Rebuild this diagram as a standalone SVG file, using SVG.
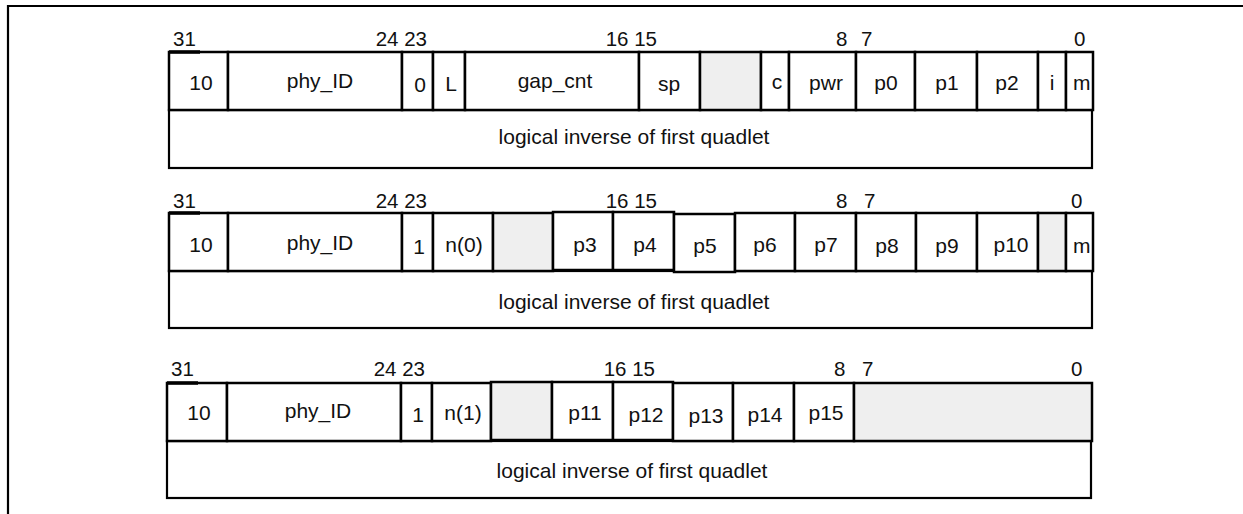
<svg xmlns="http://www.w3.org/2000/svg" width="1243" height="514" viewBox="0 0 1243 514">
<style>
.c{fill:#fff;stroke:#000;stroke-width:2.5}
.g{fill:#efefef;stroke:#000;stroke-width:2.5}
.box{fill:#fff;stroke:#000;stroke-width:2.2}
text{font-family:"Liberation Sans",Arial,sans-serif;fill:#111}
.l{font-size:21px;text-anchor:middle}
.b{font-size:20.5px}
.e{text-anchor:end}
.s{text-anchor:start}
</style>
<defs>
  <clipPath id="clipm1"><rect x="1066" y="52" width="26" height="58"/></clipPath>
  <clipPath id="clipm2"><rect x="1066" y="213" width="26" height="58"/></clipPath>
</defs>
<rect width="1243" height="514" fill="#fff"/>
<path d="M8,514 V6 H1243" fill="none" stroke="#000" stroke-width="2.2"/>
<g id="connectors"/>

<g id="q1">
  <g id="q1-inverse"><rect class="box" x="169" y="110" width="923" height="58"/><text class="l" x="634" y="144">logical inverse of first quadlet</text></g>
  <g id="q1-bits" class="b"><text x="173" y="46">31</text><text class="e" x="427" y="46">24 23</text><text class="e" x="657" y="46">16 15</text><text x="836" y="46">8</text><text x="861" y="46">7</text><text x="1074" y="46">0</text></g>
  <g id="q1-f10"><rect class="c" x="169" y="52" width="59" height="58"/><text class="l" x="201" y="90">10</text></g>
  <g id="q1-phyid"><rect class="c" x="228" y="52" width="174" height="58"/><text class="l" x="320" y="88">phy_ID</text></g>
  <g id="q1-zero"><rect class="c" x="402" y="52" width="31" height="58"/><text class="l" x="420" y="92">0</text></g>
  <g id="q1-L"><rect class="c" x="433" y="52" width="32" height="58"/><text class="l" x="451" y="91">L</text></g>
  <g id="q1-gapcnt"><rect class="c" x="465" y="52" width="174" height="58"/><text class="l" x="555" y="88">gap_cnt</text></g>
  <g id="q1-sp"><rect class="c" x="639" y="52" width="61" height="58"/><text class="l" x="669" y="91">sp</text></g>
  <g id="q1-res"><rect class="g" x="700" y="52" width="61" height="58"/></g>
  <g id="q1-c"><rect class="c" x="761" y="52" width="28" height="58"/><text class="l" x="777" y="89">c</text></g>
  <g id="q1-pwr"><rect class="c" x="789" y="52" width="67" height="58"/><text class="l" x="826" y="90">pwr</text></g>
  <g id="q1-p0"><rect class="c" x="856" y="52" width="59" height="58"/><text class="l" x="886" y="90">p0</text></g>
  <g id="q1-p1"><rect class="c" x="915" y="52" width="62" height="58"/><text class="l" x="947" y="90">p1</text></g>
  <g id="q1-p2"><rect class="c" x="977" y="52" width="61" height="58"/><text class="l" x="1007" y="90">p2</text></g>
  <g id="q1-i"><rect class="c" x="1038" y="52" width="28" height="58"/><text class="l" x="1052" y="90">i</text></g>
  <g id="q1-m"><rect class="c" x="1066" y="52" width="27" height="58"/><text class="l s" x="1073" y="90" clip-path="url(#clipm1)">m</text></g>
  <line x1="169" y1="52" x2="200" y2="52" stroke="#000" stroke-width="3.5"/>
</g>

<g id="q2">
  <g id="q2-inverse"><rect class="box" x="169" y="271" width="923" height="57"/><text class="l" x="634" y="309">logical inverse of first quadlet</text></g>
  <g id="q2-bits" class="b"><text x="173" y="208">31</text><text class="e" x="427" y="208">24 23</text><text class="e" x="657" y="208">16 15</text><text x="836" y="208">8</text><text x="864" y="208">7</text><text x="1071" y="208">0</text></g>
  <g id="q2-f10"><rect class="c" x="169" y="213" width="59" height="58"/><text class="l" x="201" y="252">10</text></g>
  <g id="q2-phyid"><rect class="c" x="228" y="213" width="174" height="58"/><text class="l" x="320" y="250">phy_ID</text></g>
  <g id="q2-one"><rect class="c" x="402" y="213" width="31" height="58"/><text class="l" x="419" y="254">1</text></g>
  <g id="q2-n0"><rect class="c" x="433" y="213" width="60" height="58"/><text class="l" x="464" y="252">n(0)</text></g>
  <g id="q2-res1"><rect class="g" x="493" y="213" width="60" height="58"/></g>
  <g id="q2-p3"><rect class="c" x="553" y="212" width="60" height="58"/><text class="l" x="585" y="252">p3</text></g>
  <g id="q2-p4"><rect class="c" x="613" y="212" width="61" height="58"/><text class="l" x="645" y="252">p4</text></g>
  <g id="q2-p5"><rect class="c" x="674" y="214" width="61" height="58"/><text class="l" x="705" y="253">p5</text></g>
  <g id="q2-p6"><rect class="c" x="735" y="213" width="60" height="58"/><text class="l" x="765" y="252">p6</text></g>
  <g id="q2-p7"><rect class="c" x="795" y="213" width="61" height="58"/><text class="l" x="826" y="252">p7</text></g>
  <g id="q2-p8"><rect class="c" x="856" y="213" width="60" height="58"/><text class="l" x="887" y="253">p8</text></g>
  <g id="q2-p9"><rect class="c" x="916" y="213" width="61" height="58"/><text class="l" x="947" y="253">p9</text></g>
  <g id="q2-p10"><rect class="c" x="977" y="213" width="61" height="58"/><text class="l" x="1011" y="252">p10</text></g>
  <g id="q2-res2"><rect class="g" x="1038" y="213" width="28" height="58"/></g>
  <g id="q2-m"><rect class="c" x="1066" y="213" width="27" height="58"/><text class="l s" x="1073" y="253" clip-path="url(#clipm2)">m</text></g>
  <line x1="169" y1="213" x2="200" y2="213" stroke="#000" stroke-width="3.5"/>
</g>

<g id="q3">
  <g id="q3-inverse"><rect class="box" x="167" y="441" width="924" height="57"/><text class="l" x="632" y="478">logical inverse of first quadlet</text></g>
  <g id="q3-bits" class="b"><text x="171" y="376">31</text><text class="e" x="425" y="376">24 23</text><text class="e" x="655" y="376">16 15</text><text x="834" y="376">8</text><text x="862" y="376">7</text><text x="1071" y="376">0</text></g>
  <g id="q3-f10"><rect class="c" x="167" y="383" width="60" height="58"/><text class="l" x="199" y="420">10</text></g>
  <g id="q3-phyid"><rect class="c" x="227" y="383" width="174" height="58"/><text class="l" x="318" y="418">phy_ID</text></g>
  <g id="q3-one"><rect class="c" x="401" y="383" width="31" height="58"/><text class="l" x="418" y="422">1</text></g>
  <g id="q3-n1"><rect class="c" x="432" y="383" width="59" height="58"/><text class="l" x="463" y="420">n(1)</text></g>
  <g id="q3-res1"><rect class="g" x="491" y="382" width="61" height="58"/></g>
  <g id="q3-p11"><rect class="c" x="552" y="382" width="61" height="58"/><text class="l" x="585" y="420">p11</text></g>
  <g id="q3-p12"><rect class="c" x="613" y="382" width="60" height="58"/><text class="l" x="646" y="422">p12</text></g>
  <g id="q3-p13"><rect class="c" x="673" y="383" width="60" height="58"/><text class="l" x="706" y="423">p13</text></g>
  <g id="q3-p14"><rect class="c" x="733" y="383" width="61" height="58"/><text class="l" x="765" y="422">p14</text></g>
  <g id="q3-p15"><rect class="c" x="794" y="383" width="60" height="58"/><text class="l" x="826" y="420">p15</text></g>
  <g id="q3-res2"><rect class="g" x="854" y="383" width="238" height="58"/></g>
  <line x1="167" y1="383" x2="198" y2="383" stroke="#000" stroke-width="3.5"/>
</g>
</svg>
